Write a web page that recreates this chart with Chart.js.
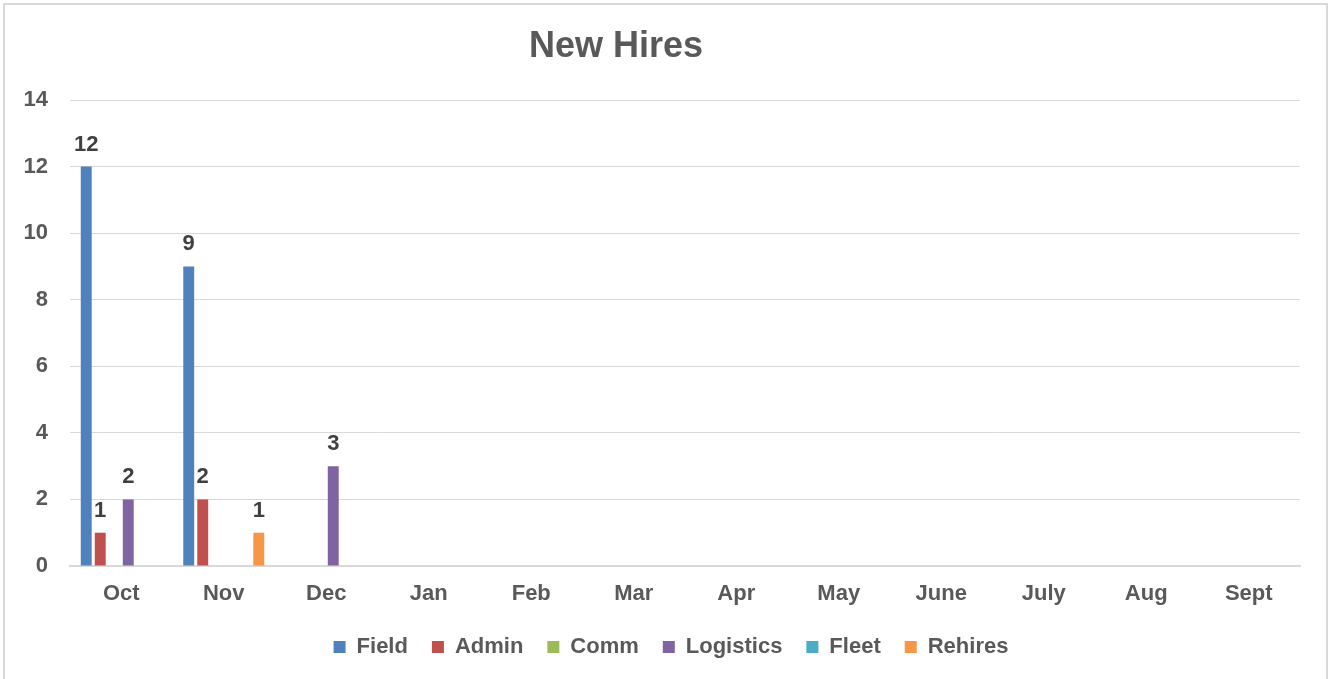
<!DOCTYPE html>
<html>
<head>
<meta charset="utf-8">
<title>New Hires</title>
<script src="https://cdn.jsdelivr.net/npm/chart.js@4/dist/chart.umd.min.js"></script>
<style>
    html, body {
        margin: 0;
        padding: 0;
        background: #ffffff;
        overflow: hidden;
    }
    .frame {
        position: absolute;
        left: 3px;
        top: 3px;
        width: 1325px;
        height: 720px;
        border: 2px solid #d9d9d9;
        box-sizing: border-box;
    }
    #chart {
        position: absolute;
        left: 0;
        top: 0;
    }
</style>
</head>
<body>
<div class="frame"></div>
<canvas id="chart" width="1329" height="679"></canvas>

<script>
// months on the x axis
const months = ["Oct", "Nov", "Dec", "Jan", "Feb", "Mar", "Apr", "May", "June", "July", "Aug", "Sept"];

// hires per month, one list per group
const field     = [12, 9, 0, 0, 0, 0, 0, 0, 0, 0, 0, 0];
const admin     = [1, 2, 0, 0, 0, 0, 0, 0, 0, 0, 0, 0];
const comm      = [0, 0, 0, 0, 0, 0, 0, 0, 0, 0, 0, 0];
const logistics = [2, 0, 3, 0, 0, 0, 0, 0, 0, 0, 0, 0];
const fleet     = [0, 0, 0, 0, 0, 0, 0, 0, 0, 0, 0, 0];
const rehires   = [0, 1, 0, 0, 0, 0, 0, 0, 0, 0, 0, 0];

const chartTitle = "New Hires";

const FONT = "'Liberation Sans', Arial, sans-serif";

// title is drawn by hand, it sits a bit left of the middle like in excel
// legend gets nudged right a little for the same reason
const placement = {
    id: "placement",
    afterLayout(chart) {
        if (chart.legend) {
            chart.legend.left += 21;
            chart.legend.right += 21;
        }
    },
    afterDraw(chart) {
        const ctx = chart.ctx;
        ctx.save();
        ctx.font = "bold 36px " + FONT;
        ctx.fillStyle = "#595959";
        ctx.textAlign = "center";
        ctx.textBaseline = "middle";
        ctx.fillText(chartTitle, 616, 47);
        ctx.restore();
    }
};

// labels above each bar (only non zero values)
const barLabels = {
    id: "barLabels",
    afterDatasetsDraw(chart) {
        const ctx = chart.ctx;
        ctx.save();
        ctx.font = "bold 22px " + FONT;
        ctx.fillStyle = "#404040";
        ctx.textAlign = "center";
        ctx.textBaseline = "alphabetic";

        chart.data.datasets.forEach((ds, i) => {
            const meta = chart.getDatasetMeta(i);
            if (meta.hidden) return;
            meta.data.forEach((bar, j) => {
                const v = ds.data[j];
                if (!v) return;
                ctx.fillText(String(v), bar.x, bar.y - 16);
            });
        });

        ctx.restore();
    }
};

function makeSet(label, data, color) {
    return {
        label,
        data,
        backgroundColor: color,
        borderWidth: 0,
        categoryPercentage: 0.82,
        barPercentage: 0.78
    };
}

new Chart(document.getElementById("chart"), {
    type: "bar",
    data: {
        labels: months,
        datasets: [
            makeSet("Field", field, "#4f81bd"),
            makeSet("Admin", admin, "#c0504d"),
            makeSet("Comm", comm, "#9bbb59"),
            makeSet("Logistics", logistics, "#8064a2"),
            makeSet("Fleet", fleet, "#4bacc6"),
            makeSet("Rehires", rehires, "#f79646")
        ]
    },
    options: {
        responsive: false,
        animation: false,
        layout: {
            padding: { left: 0, right: 29, top: 100, bottom: 11 }
        },
        plugins: {
            title: { display: false },
            legend: {
                position: "bottom",
                labels: {
                    color: "#595959",
                    font: { family: FONT, size: 22, weight: "bold" },
                    boxWidth: 12,
                    boxHeight: 12,
                    padding: 24
                }
            },
            tooltip: { enabled: false }
        },
        scales: {
            x: {
                grid: { display: false, drawTicks: false },
                border: { color: "#d9d9d9", width: 2 },
                ticks: {
                    color: "#595959",
                    font: { family: FONT, size: 22, weight: "bold" },
                    padding: 15,
                    maxRotation: 0
                },
                afterFit(scale) {
                    scale.height = 46;
                }
            },
            y: {
                min: 0,
                max: 14,
                grid: { color: "#d9d9d9", lineWidth: 1, drawTicks: false },
                border: { display: false },
                ticks: {
                    stepSize: 2,
                    color: "#595959",
                    font: { family: FONT, size: 22, weight: "bold" },
                    padding: 22
                },
                afterFit(scale) {
                    scale.width = 70;
                }
            }
        }
    },
    plugins: [barLabels, placement]
});
</script>
</body>
</html>
